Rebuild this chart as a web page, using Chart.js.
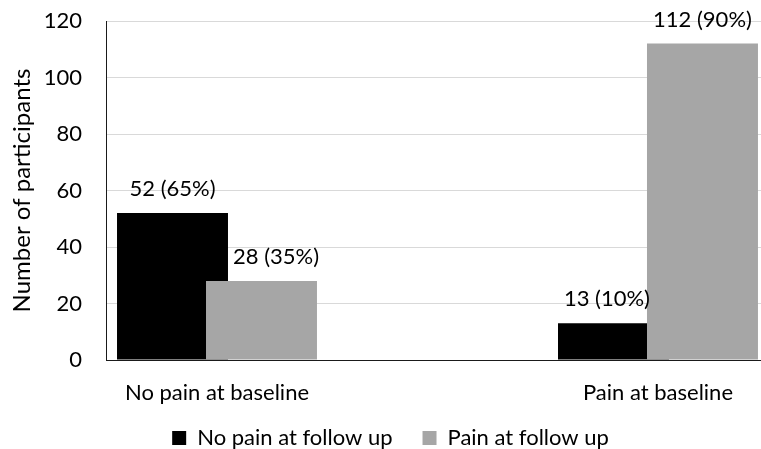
<!DOCTYPE html>
<html>
<head>
<meta charset="utf-8">
<script src="https://cdn.jsdelivr.net/npm/chart.js@4/dist/chart.umd.min.js"></script>
<style>
  html, body { margin: 0; padding: 0; background: #ffffff; }
  #wrap { width: 761px; height: 449px; }
</style>
</head>
<body>
<div id="wrap"><canvas id="c" width="761" height="449"></canvas></div>
<script>
// Participants by pain status at baseline and at follow up
const categories = ['No pain at baseline', 'Pain at baseline'];
const seriesNames = ['No pain at follow up', 'Pain at follow up'];
const noPainFollowUp = [52, 13];
const painFollowUp = [28, 112];
const yTicks = [0, 20, 40, 60, 80, 100, 120];

const FONT_FAMILY = 'Lato, "Open Sans", sans-serif';
const FONT_SIZE = 22;
const BLACK = '#000000';
const GREY = '#a6a6a6';

const toPoints = (values) => values.map((v, i) => ({ x: i, y: v }));

// Within each baseline group, percentages are shares of the group total
const groupTotals = categories.map((_, i) => noPainFollowUp[i] + painFollowUp[i]);

// Bars overlap a little; the second series is painted on top of the first
const layering = {
  id: 'layering',
  beforeDatasetDraw(chart, args) {
    if (args.index === 1) chart.getDatasetMeta(0).controller.draw();
    if (args.index === 0) return false;
  }
};

// Value and percentage written above every bar, moved sideways
// when the neighbouring bar of the group would run into the text
const barLabels = {
  id: 'barLabels',
  afterDatasetsDraw(chart) {
    const ctx = chart.ctx;
    ctx.save();
    ctx.font = `${FONT_SIZE}px ${FONT_FAMILY}`;
    ctx.fillStyle = '#000000';
    ctx.textAlign = 'center';
    ctx.textBaseline = 'middle';
    const metas = [chart.getDatasetMeta(0), chart.getDatasetMeta(1)];
    chart.data.datasets.forEach((ds, di) => {
      metas[di].data.forEach((bar, i) => {
        const v = ds.data[i].y;
        const pct = Math.round(v / groupTotals[i] * 100);
        const text = `${v} (${pct}%)`;
        const w = ctx.measureText(text).width;
        const y = bar.y - 24;
        let x = bar.x;
        const other = metas[1 - di].data[i];
        const bottom = y + FONT_SIZE / 2;
        if (other.y < bottom) {
          if (di === 1) {
            const edge = other.x + other.width / 2 + 5;
            if (x - w / 2 < edge) x = edge + w / 2;
          } else {
            const edge = other.x - other.width / 2 + 3;
            if (x + w / 2 > edge) x = edge - w / 2;
          }
        }
        ctx.fillText(text, x, y);
      });
    });
    ctx.restore();
  }
};

const font = { family: FONT_FAMILY, size: FONT_SIZE };

new Chart(document.getElementById('c'), {
  type: 'bar',
  data: {
    datasets: [
      { label: seriesNames[0], data: toPoints(noPainFollowUp), backgroundColor: BLACK, borderWidth: 0, inflateAmount: 0 },
      { label: seriesNames[1], data: toPoints(painFollowUp), backgroundColor: GREY, borderWidth: 0, inflateAmount: 0 }
    ]
  },
  options: {
    responsive: false,
    animation: false,
    devicePixelRatio: 1,
    categoryPercentage: 0.4036,
    barPercentage: 1.247,
    layout: { padding: { top: 21, right: 0, bottom: 0, left: 20 } },
    scales: {
      x: {
        type: 'linear',
        min: -0.2517,
        max: 1.2336,
        offset: false,
        afterFit(scale) {
          scale.height = 37;
          // category names hang a little below the axis box; keep them unclipped
          scale._computeLabelArea = () => undefined;
        },
        grid: { display: false },
        border: { display: true, color: '#1a1a1a', width: 1 },
        ticks: {
          stepSize: 1,
          includeBounds: false,
          autoSkip: false,
          maxRotation: 0,
          padding: 12,
          color: '#000000',
          font,
          callback: (v) => (Number.isInteger(v) && categories[v] !== undefined ? categories[v] : '')
        }
      },
      y: {
        min: yTicks[0],
        max: yTicks[yTicks.length - 1],
        afterFit(scale) {
          scale.width = 86;
          scale.paddingTop = 0;
          scale.paddingBottom = 0;
        },
        grid: { color: '#d9d9d9', lineWidth: 1, drawTicks: false },
        border: { display: true, color: '#1a1a1a', width: 1 },
        ticks: {
          stepSize: yTicks[1] - yTicks[0],
          padding: 24,
          color: '#000000',
          font
        },
        title: {
          display: true,
          text: 'Number of participants',
          color: '#000000',
          font: { family: FONT_FAMILY, size: 24 },
          padding: { top: -12, bottom: 0 }
        }
      }
    },
    plugins: {
      legend: {
        position: 'bottom',
        maxHeight: 52,
        labels: {
          color: '#000000',
          font,
          boxWidth: 14,
          boxHeight: 14,
          padding: 30
        }
      },
      tooltip: { enabled: false }
    }
  },
  plugins: [layering, barLabels]
});
</script>
</body>
</html>
